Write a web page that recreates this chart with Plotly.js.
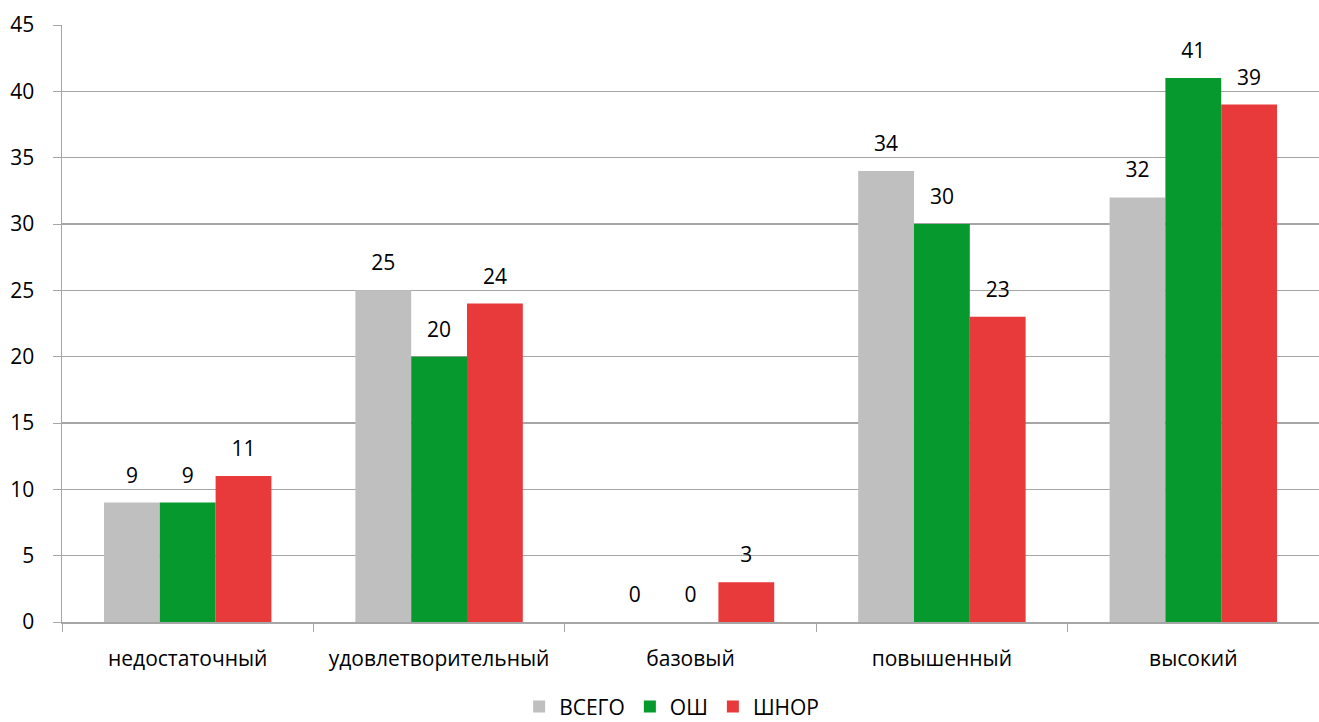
<!DOCTYPE html>
<html>
<head>
<meta charset="utf-8">
<script src="https://cdn.plot.ly/plotly-3.0.1.min.js"></script>
<style>html,body{margin:0;padding:0;background:#fff;}#chart{width:1319px;height:722px;}</style>
</head>
<body>
<div id="chart"></div>
<script>
const categories = ["недостаточный", "удовлетворительный", "базовый", "повышенный", "высокий"];
const seriesNames = ["ВСЕГО", "ОШ", "ШНОР"];
const vsego = [9, 25, 0, 34, 32];
const osh = [9, 20, 0, 30, 41];
const shnor = [11, 24, 3, 23, 39];
const colors = ["#BFBFBF", "#069A2E", "#E8393B"];
const yTicks = [0, 5, 10, 15, 20, 25, 30, 35, 40, 45];

const FONT = "Open Sans, Liberation Sans, sans-serif";
const FS = 21;
const GAP = 0.334;
const values = [vsego, osh, shnor];

const bars = values.map((v, i) => ({
  type: "bar",
  name: seriesNames[i],
  x: categories,
  y: v,
  marker: {color: colors[i]},
  hoverinfo: "skip"
}));

const labels = values.map((v, i) => ({
  type: "scatter",
  mode: "markers+text",
  name: seriesNames[i] + " labels",
  showlegend: false,
  x: categories,
  y: v,
  text: v.map(String),
  textposition: "top center",
  marker: {size: 22, color: "rgba(0,0,0,0)"},
  cliponaxis: false,
  textfont: {family: FONT, size: FS, color: "#000"}
}));

const layout = {
  width: 1319, height: 722,
  margin: {l: 62, r: 0, t: 25, b: 100, autoexpand: false},
  paper_bgcolor: "#fff", plot_bgcolor: "#fff",
  font: {family: FONT, size: FS, color: "#000"},
  barmode: "group",
  bargap: GAP,
  bargroupgap: 0,
  scattermode: "group",
  scattergap: GAP,
  showlegend: true,
  legend: {orientation: "h", x: 0.485, xanchor: "center", y: -0.142, yanchor: "middle",
           bgcolor: "rgba(0,0,0,0)",
           font: {family: FONT, size: FS}, itemwidth: 30, traceorder: "normal"},
  xaxis: {
    type: "category",
    automargin: false,
    tickson: "boundaries",
    ticks: "outside", ticklen: 8, tickcolor: "#A6A6A6",
    showline: true, linecolor: "#A6A6A6", linewidth: 1.5,
    showgrid: false,
    tickfont: {family: FONT, size: FS},
    ticklabelstandoff: 17
  },
  yaxis: {
    automargin: false,
    range: [0, 45],
    tickvals: yTicks,
    ticks: "outside", ticklen: 8, tickcolor: "#A6A6A6",
    showline: true, linecolor: "#A6A6A6", linewidth: 1.5,
    showgrid: true, gridcolor: "#A6A6A6", gridwidth: 1.5,
    zeroline: false,
    tickfont: {family: FONT, size: FS},
    ticklabelstandoff: 14
  }
};

Plotly.newPlot("chart", bars.concat(labels), layout, {displayModeBar: false, staticPlot: true});
</script>
</body>
</html>
